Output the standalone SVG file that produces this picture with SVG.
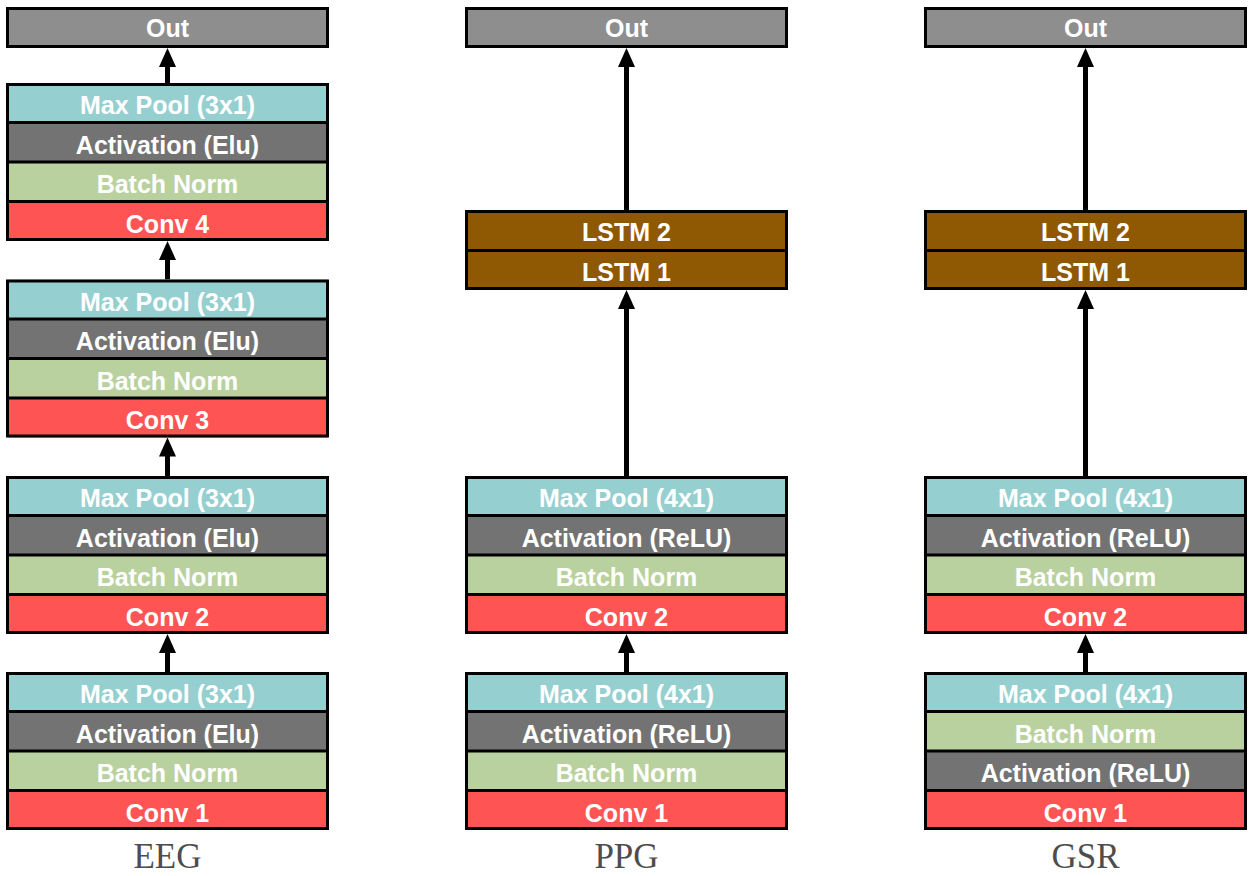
<svg xmlns="http://www.w3.org/2000/svg" width="1256" height="876" viewBox="0 0 1256 876">
<style>
.mp{fill:#96cfcf}.ac{fill:#737373}.bn{fill:#b9d19e}.cv{fill:#ff5454}.out{fill:#8e8e8e}.ls{fill:#8f5904}
.fr{fill:none;stroke:#000;stroke-width:3}
.sep{stroke:#000;stroke-width:3}
.t{font-family:"Liberation Sans",Arial,sans-serif;font-weight:bold;font-size:25px;fill:#fff;text-anchor:middle}
.lab{font-family:"Liberation Serif","Times New Roman",serif;font-size:35px;fill:#4d4d4d;text-anchor:middle}
.arr{stroke:#000;stroke-width:5;fill:none;marker-end:url(#ah)}
</style>
<defs>
<marker id="ah" markerUnits="userSpaceOnUse" markerWidth="19" markerHeight="17" refX="9" refY="8.5" orient="auto" viewBox="0 0 19 17">
<path d="M0,0 L19,8.5 L0,17 z" fill="#000"/>
</marker>
</defs>

<g id="connectors">
<path class="arr" d="M167.5,83 V58"/>
<path class="arr" d="M167.5,279.5 V251"/>
<path class="arr" d="M167.5,476 V447.5"/>
<path class="arr" d="M167.5,672 V644"/>
<path class="arr" d="M626.5,210 V58"/>
<path class="arr" d="M626.5,476 V300"/>
<path class="arr" d="M626.5,672 V644"/>
<path class="arr" d="M1085.5,210 V58"/>
<path class="arr" d="M1085.5,476 V300"/>
<path class="arr" d="M1085.5,672 V644"/>
</g>

<!-- EEG -->
<g id="eeg-out">
<rect class="out" x="7.5" y="8.5" width="320" height="38"/>
<rect class="fr" x="7.5" y="8.5" width="320" height="38"/>
<text class="t" x="167.5" y="37">Out</text>
</g>
<g id="eeg-block4">
<rect class="mp" x="7.5" y="83" width="320" height="39.5"/>
<rect class="ac" x="7.5" y="122.5" width="320" height="39.5"/>
<rect class="bn" x="7.5" y="162" width="320" height="39.5"/>
<rect class="cv" x="7.5" y="201.5" width="320" height="39.5"/>
<line class="sep" x1="7.5" y1="122.5" x2="327.5" y2="122.5"/>
<line class="sep" x1="7.5" y1="162" x2="327.5" y2="162"/>
<line class="sep" x1="7.5" y1="201.5" x2="327.5" y2="201.5"/>
<rect class="fr" x="7.5" y="84.5" width="320" height="155"/>
<text class="t" x="167.5" y="114">Max Pool (3x1)</text>
<text class="t" x="167.5" y="153.5">Activation (Elu)</text>
<text class="t" x="167.5" y="193">Batch Norm</text>
<text class="t" x="167.5" y="232.5">Conv 4</text>
</g>
<g id="eeg-block3">
<rect class="mp" x="7.5" y="279.5" width="320" height="39.5"/>
<rect class="ac" x="7.5" y="319" width="320" height="39.5"/>
<rect class="bn" x="7.5" y="358.5" width="320" height="39.5"/>
<rect class="cv" x="7.5" y="398" width="320" height="39.5"/>
<line class="sep" x1="7.5" y1="319" x2="327.5" y2="319"/>
<line class="sep" x1="7.5" y1="358.5" x2="327.5" y2="358.5"/>
<line class="sep" x1="7.5" y1="398" x2="327.5" y2="398"/>
<rect class="fr" x="7.5" y="281" width="320" height="155"/>
<text class="t" x="167.5" y="310.5">Max Pool (3x1)</text>
<text class="t" x="167.5" y="350">Activation (Elu)</text>
<text class="t" x="167.5" y="389.5">Batch Norm</text>
<text class="t" x="167.5" y="429">Conv 3</text>
</g>
<g id="eeg-block2">
<rect class="mp" x="7.5" y="476" width="320" height="39.5"/>
<rect class="ac" x="7.5" y="515.5" width="320" height="39.5"/>
<rect class="bn" x="7.5" y="555" width="320" height="39.5"/>
<rect class="cv" x="7.5" y="594.5" width="320" height="39.5"/>
<line class="sep" x1="7.5" y1="515.5" x2="327.5" y2="515.5"/>
<line class="sep" x1="7.5" y1="555" x2="327.5" y2="555"/>
<line class="sep" x1="7.5" y1="594.5" x2="327.5" y2="594.5"/>
<rect class="fr" x="7.5" y="477.5" width="320" height="155"/>
<text class="t" x="167.5" y="507">Max Pool (3x1)</text>
<text class="t" x="167.5" y="546.5">Activation (Elu)</text>
<text class="t" x="167.5" y="586">Batch Norm</text>
<text class="t" x="167.5" y="625.5">Conv 2</text>
</g>
<g id="eeg-block1">
<rect class="mp" x="7.5" y="672" width="320" height="39.5"/>
<rect class="ac" x="7.5" y="711.5" width="320" height="39.5"/>
<rect class="bn" x="7.5" y="751" width="320" height="39.5"/>
<rect class="cv" x="7.5" y="790.5" width="320" height="39.5"/>
<line class="sep" x1="7.5" y1="711.5" x2="327.5" y2="711.5"/>
<line class="sep" x1="7.5" y1="751" x2="327.5" y2="751"/>
<line class="sep" x1="7.5" y1="790.5" x2="327.5" y2="790.5"/>
<rect class="fr" x="7.5" y="673.5" width="320" height="155"/>
<text class="t" x="167.5" y="703">Max Pool (3x1)</text>
<text class="t" x="167.5" y="742.5">Activation (Elu)</text>
<text class="t" x="167.5" y="782">Batch Norm</text>
<text class="t" x="167.5" y="821.5">Conv 1</text>
</g>
<text class="lab" x="167.5" y="868">EEG</text>

<!-- PPG -->
<g id="ppg-out">
<rect class="out" x="466.5" y="8.5" width="320" height="38"/>
<rect class="fr" x="466.5" y="8.5" width="320" height="38"/>
<text class="t" x="626.5" y="37">Out</text>
</g>
<g id="ppg-lstm">
<rect class="ls" x="466.5" y="210" width="320" height="40"/>
<rect class="ls" x="466.5" y="250" width="320" height="40"/>
<line class="sep" x1="466.5" y1="250.5" x2="786.5" y2="250.5"/>
<rect class="fr" x="466.5" y="211.5" width="320" height="77"/>
<text class="t" x="626.5" y="241">LSTM 2</text>
<text class="t" x="626.5" y="280.5">LSTM 1</text>
</g>
<g id="ppg-block2">
<rect class="mp" x="466.5" y="476" width="320" height="39.5"/>
<rect class="ac" x="466.5" y="515.5" width="320" height="39.5"/>
<rect class="bn" x="466.5" y="555" width="320" height="39.5"/>
<rect class="cv" x="466.5" y="594.5" width="320" height="39.5"/>
<line class="sep" x1="466.5" y1="515.5" x2="786.5" y2="515.5"/>
<line class="sep" x1="466.5" y1="555" x2="786.5" y2="555"/>
<line class="sep" x1="466.5" y1="594.5" x2="786.5" y2="594.5"/>
<rect class="fr" x="466.5" y="477.5" width="320" height="155"/>
<text class="t" x="626.5" y="507">Max Pool (4x1)</text>
<text class="t" x="626.5" y="546.5">Activation (ReLU)</text>
<text class="t" x="626.5" y="586">Batch Norm</text>
<text class="t" x="626.5" y="625.5">Conv 2</text>
</g>
<g id="ppg-block1">
<rect class="mp" x="466.5" y="672" width="320" height="39.5"/>
<rect class="ac" x="466.5" y="711.5" width="320" height="39.5"/>
<rect class="bn" x="466.5" y="751" width="320" height="39.5"/>
<rect class="cv" x="466.5" y="790.5" width="320" height="39.5"/>
<line class="sep" x1="466.5" y1="711.5" x2="786.5" y2="711.5"/>
<line class="sep" x1="466.5" y1="751" x2="786.5" y2="751"/>
<line class="sep" x1="466.5" y1="790.5" x2="786.5" y2="790.5"/>
<rect class="fr" x="466.5" y="673.5" width="320" height="155"/>
<text class="t" x="626.5" y="703">Max Pool (4x1)</text>
<text class="t" x="626.5" y="742.5">Activation (ReLU)</text>
<text class="t" x="626.5" y="782">Batch Norm</text>
<text class="t" x="626.5" y="821.5">Conv 1</text>
</g>
<text class="lab" x="626.5" y="868">PPG</text>

<!-- GSR -->
<g id="gsr-out">
<rect class="out" x="925.5" y="8.5" width="320" height="38"/>
<rect class="fr" x="925.5" y="8.5" width="320" height="38"/>
<text class="t" x="1085.5" y="37">Out</text>
</g>
<g id="gsr-lstm">
<rect class="ls" x="925.5" y="210" width="320" height="40"/>
<rect class="ls" x="925.5" y="250" width="320" height="40"/>
<line class="sep" x1="925.5" y1="250.5" x2="1245.5" y2="250.5"/>
<rect class="fr" x="925.5" y="211.5" width="320" height="77"/>
<text class="t" x="1085.5" y="241">LSTM 2</text>
<text class="t" x="1085.5" y="280.5">LSTM 1</text>
</g>
<g id="gsr-block2">
<rect class="mp" x="925.5" y="476" width="320" height="39.5"/>
<rect class="ac" x="925.5" y="515.5" width="320" height="39.5"/>
<rect class="bn" x="925.5" y="555" width="320" height="39.5"/>
<rect class="cv" x="925.5" y="594.5" width="320" height="39.5"/>
<line class="sep" x1="925.5" y1="515.5" x2="1245.5" y2="515.5"/>
<line class="sep" x1="925.5" y1="555" x2="1245.5" y2="555"/>
<line class="sep" x1="925.5" y1="594.5" x2="1245.5" y2="594.5"/>
<rect class="fr" x="925.5" y="477.5" width="320" height="155"/>
<text class="t" x="1085.5" y="507">Max Pool (4x1)</text>
<text class="t" x="1085.5" y="546.5">Activation (ReLU)</text>
<text class="t" x="1085.5" y="586">Batch Norm</text>
<text class="t" x="1085.5" y="625.5">Conv 2</text>
</g>
<g id="gsr-block1">
<rect class="mp" x="925.5" y="672" width="320" height="39.5"/>
<rect class="bn" x="925.5" y="711.5" width="320" height="39.5"/>
<rect class="ac" x="925.5" y="751" width="320" height="39.5"/>
<rect class="cv" x="925.5" y="790.5" width="320" height="39.5"/>
<line class="sep" x1="925.5" y1="711.5" x2="1245.5" y2="711.5"/>
<line class="sep" x1="925.5" y1="751" x2="1245.5" y2="751"/>
<line class="sep" x1="925.5" y1="790.5" x2="1245.5" y2="790.5"/>
<rect class="fr" x="925.5" y="673.5" width="320" height="155"/>
<text class="t" x="1085.5" y="703">Max Pool (4x1)</text>
<text class="t" x="1085.5" y="742.5">Batch Norm</text>
<text class="t" x="1085.5" y="782">Activation (ReLU)</text>
<text class="t" x="1085.5" y="821.5">Conv 1</text>
</g>
<text class="lab" x="1085.5" y="868">GSR</text>
</svg>
